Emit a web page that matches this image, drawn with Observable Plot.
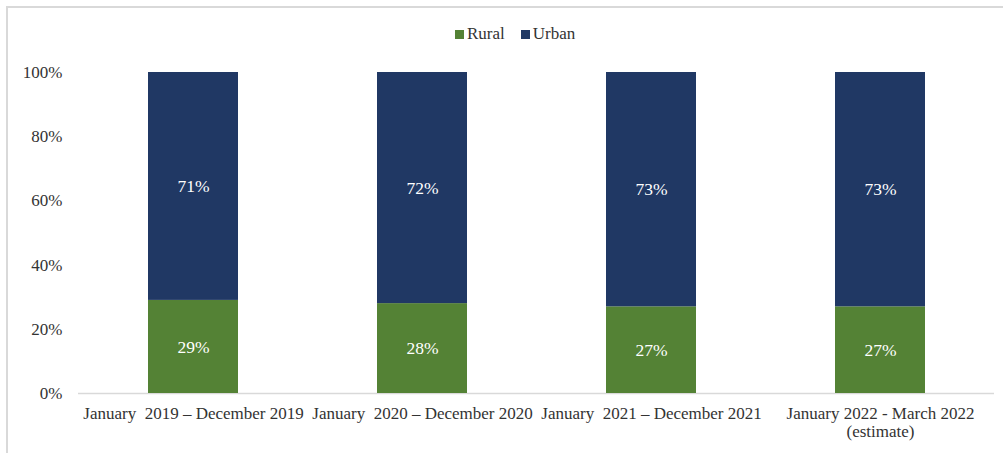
<!DOCTYPE html>
<html>
<head>
<meta charset="utf-8">
<script src="https://cdn.jsdelivr.net/npm/d3@7"></script>
<script src="https://cdn.jsdelivr.net/npm/@observablehq/plot@0.6"></script>
<style>
  html, body { margin: 0; padding: 0; background: #fff; }
  #wrap { position: relative; width: 1003px; height: 453px; overflow: hidden; }
  #frame { position: absolute; left: 6px; top: 6px; width: 1100px; height: 500px; border-left: 2px solid #d9d9d9; border-top: 2px solid #d9d9d9; }
  #legend { position: absolute; top: 24px; left: 455px; display: flex; align-items: center; font-size: 17px; color: #333; line-height: 20px; }
  #legend .item { display: flex; align-items: center; margin-right: 16px; }
  #legend .sw { width: 9px; height: 9px; margin-right: 3px; }
  #chart { position: absolute; left: 0; top: 0; }
  .serif, .serif * { font-family: 'Liberation Serif', 'Times New Roman', serif !important; }
</style>
</head>
<body>
<div id="wrap">
  <div id="frame"></div>
  <div id="chart" class="serif"></div>
  <div id="legend" class="serif"></div>
</div>
<script>
const periods = [
  "January  2019 – December 2019",
  "January  2020 – December 2020",
  "January  2021 – December 2021",
  "January 2022 - March 2022\n(estimate)"
];
const series = ["Rural", "Urban"];
const rural = [29, 28, 27, 27];
const urban = [71, 72, 73, 73];
const yTicks = [0, 20, 40, 60, 80, 100];
const colors = ["#548235", "#203864"];

const data = [];
periods.forEach((p, i) => {
  data.push({period: p, group: "Rural", value: rural[i]});
  data.push({period: p, group: "Urban", value: urban[i]});
});

const ff = "Liberation Serif";

const chart = Plot.plot({
  width: 1003,
  height: 453,
  marginLeft: 78,
  marginRight: 9,
  marginTop: 72,
  marginBottom: 60,
  style: {fontSize: "17px", color: "#333", background: "transparent"},
  x: {domain: periods, paddingInner: 0.607, paddingOuter: 0.3035, label: null},
  y: {domain: [0, 100], label: null},
  color: {domain: series, range: colors},
  marks: [
    Plot.ruleY([0], {stroke: "#d9d9d9", strokeWidth: 1.5}),
    Plot.barY(data, Plot.stackY({x: "period", y: "value", fill: "group", order: series})),
    Plot.text(data, Plot.stackY({x: "period", y: "value", z: "group", order: series, text: d => d.value + "%", fill: "white", fontSize: 17.5, fontFamily: ff})),
    Plot.axisY({ticks: yTicks, tickFormat: d => d + "%", tickSize: 0, tickPadding: 16, fontSize: 17, fill: "#333", fontFamily: ff}),
    Plot.axisX({tickSize: 0, tickPadding: 12, fontSize: 17, fill: "#333", lineHeight: 1.1, textAnchor: "middle", fontFamily: ff})
  ]
});
document.getElementById("chart").appendChild(chart);

const legendEl = document.getElementById("legend");
series.forEach((s, i) => {
  const item = document.createElement("span");
  item.className = "item";
  const sw = document.createElement("span");
  sw.className = "sw";
  sw.style.background = colors[i];
  const label = document.createElement("span");
  label.textContent = s;
  item.appendChild(sw);
  item.appendChild(label);
  legendEl.appendChild(item);
});
</script>
</body>
</html>
